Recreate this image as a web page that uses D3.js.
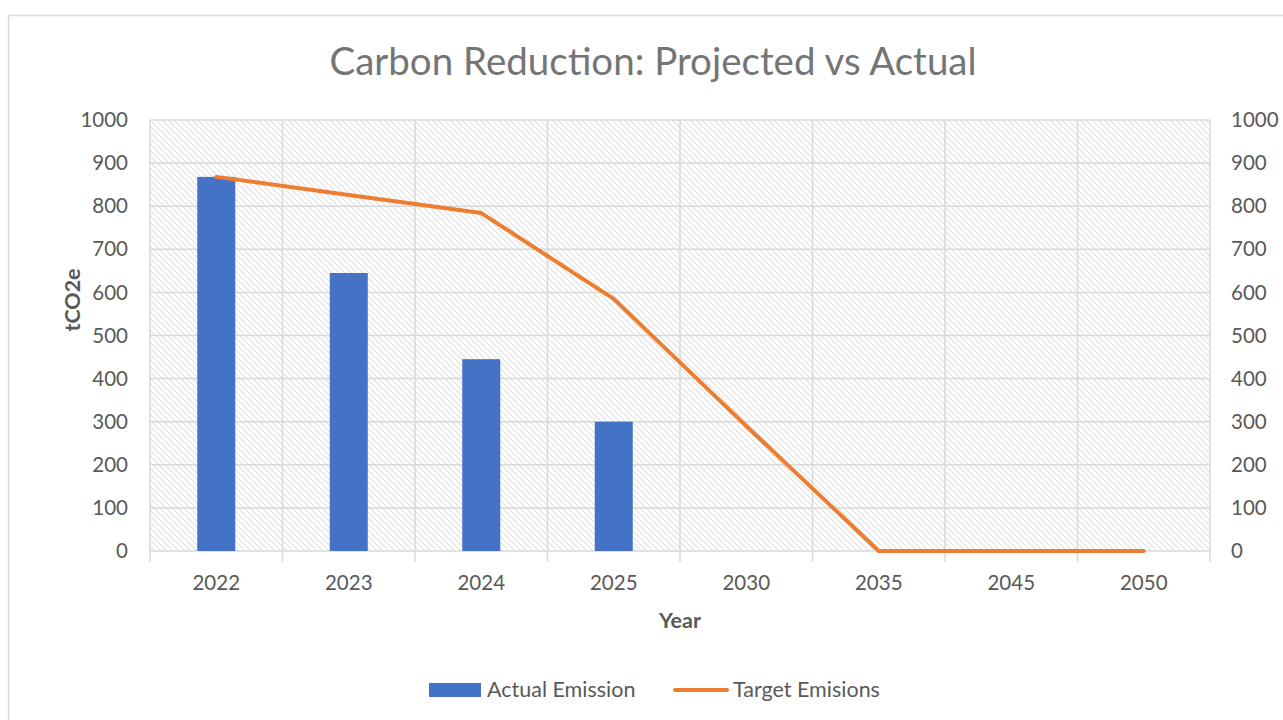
<!DOCTYPE html>
<html><head><meta charset="utf-8">
<script src="https://cdn.jsdelivr.net/npm/d3@7"></script>
<style>body{margin:0;background:#fff}svg{display:block}</style>
</head><body>
<script>
const categories = ["2022","2023","2024","2025","2030","2035","2045","2050"];
const actualEmission = [868, 645, 445, 300, null, null, null, null];
const targetEmissions = [868, 826, 784, 585, 290, 0, 0, 0];
const yTicks = [0,100,200,300,400,500,600,700,800,900,1000];

(function(){
const W = 1283, H = 720;
const svg = d3.select("body").append("svg").attr("width", W).attr("height", H);
const font = "Lato, 'Open Sans', sans-serif";
const grey = "#595959";

const defs = svg.append("defs");
const pat = defs.append("pattern").attr("id","hatch").attr("patternUnits","userSpaceOnUse")
  .attr("width",6).attr("height",6);
pat.append("rect").attr("width",6).attr("height",6).attr("fill","#fff");
pat.append("path").attr("d","M-1,-1 L7,7 M-1,5 L1,7 M5,-1 L7,1").attr("stroke","#e0e0e0").attr("stroke-width",1.1);

svg.append("rect").attr("x",8.5).attr("y",15.5).attr("width",1300).attr("height",720)
  .attr("fill","#fff").attr("stroke","#d9d9d9").attr("stroke-width",1.5);

const pl = 150, pr = 1210, pt = 120, pb = 551;
const x = d3.scaleBand().domain(categories).range([pl,pr]);
const y = d3.scaleLinear().domain([0,1000]).range([pb,pt]);

svg.append("rect").attr("x",pl).attr("y",pt).attr("width",pr-pl).attr("height",pb-pt).attr("fill","url(#hatch)");

svg.append("g").selectAll("line").data(yTicks).join("line")
  .attr("x1",pl).attr("x2",pr).attr("y1",d=>y(d)).attr("y2",d=>y(d))
  .attr("stroke","#d9d9d9").attr("stroke-width",1.5);
const bounds = categories.map(c=>x(c)).concat([pr]);
svg.append("g").selectAll("line").data(bounds).join("line")
  .attr("x1",d=>d).attr("x2",d=>d).attr("y1",pt).attr("y2",pb+11)
  .attr("stroke","#d9d9d9").attr("stroke-width",1.5);

const bw = 38;
svg.append("g").selectAll("rect").data(categories.map((c,i)=>({c,v:actualEmission[i]})).filter(d=>d.v!=null))
  .join("rect").attr("x",d=>x(d.c)+x.bandwidth()/2-bw/2).attr("width",bw)
  .attr("y",d=>y(d.v)).attr("height",d=>pb-y(d.v)).attr("fill","#4472C4");

const line = d3.line().x((d,i)=>x(categories[i])+x.bandwidth()/2).y(d=>y(d));
svg.append("path").datum(targetEmissions).attr("d",line).attr("fill","none")
  .attr("stroke","#ED7D31").attr("stroke-width",4).attr("stroke-linejoin","round").attr("stroke-linecap","round");

const fs = 20.5;
svg.append("g").selectAll("text").data(yTicks).join("text")
  .attr("x",128).attr("y",d=>y(d)).attr("dy","0.35em").attr("text-anchor","end")
  .attr("font-family",font).attr("font-size",fs).attr("fill",grey).text(d=>d);
svg.append("g").selectAll("text").data(yTicks).join("text")
  .attr("x",1231).attr("y",d=>y(d)).attr("dy","0.35em").attr("text-anchor","start")
  .attr("font-family",font).attr("font-size",fs).attr("fill",grey).text(d=>d);
svg.append("g").selectAll("text").data(categories).join("text")
  .attr("x",d=>x(d)+x.bandwidth()/2).attr("y",590).attr("text-anchor","middle")
  .attr("font-family",font).attr("font-size",fs).attr("fill",grey).text(d=>d);

svg.append("text").attr("x",680).attr("y",628).attr("text-anchor","middle")
  .attr("font-family",font).attr("font-size",21.5).attr("font-weight","bold").attr("fill",grey).text("Year");
svg.append("text").attr("transform","translate(80,300) rotate(-90)").attr("text-anchor","middle")
  .attr("font-family",font).attr("font-size",21.5).attr("font-weight","bold").attr("fill",grey).text("tCO2e");

svg.append("text").attr("x",653).attr("y",75).attr("text-anchor","middle")
  .attr("font-family",font).attr("font-size",38.5).attr("fill","#757575").text("Carbon Reduction: Projected vs Actual");

const lf = 21.5;
svg.append("rect").attr("x",429).attr("y",683).attr("width",52).attr("height",14).attr("fill","#4472C4");
svg.append("text").attr("x",487).attr("y",697).attr("font-family",font).attr("font-size",lf).attr("fill",grey).text("Actual Emission");
svg.append("line").attr("x1",675).attr("x2",727).attr("y1",690).attr("y2",690).attr("stroke","#ED7D31").attr("stroke-width",4).attr("stroke-linecap","round");
svg.append("text").attr("x",733).attr("y",697).attr("font-family",font).attr("font-size",lf).attr("fill",grey).text("Target Emisions");
})();
</script>
</body></html>
